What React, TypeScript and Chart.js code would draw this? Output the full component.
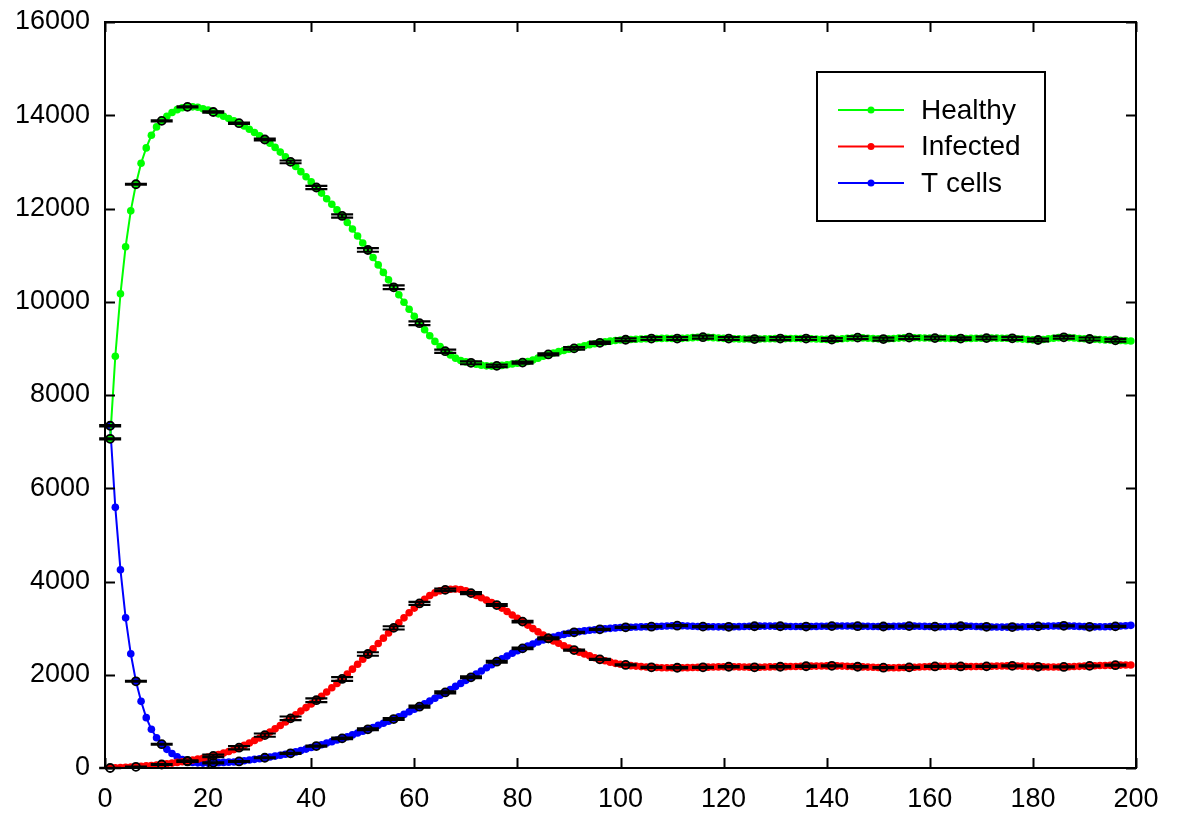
import React, { useEffect, useRef } from "react";
import { Chart, registerables } from "chart.js";

Chart.register(...registerables);

// time points
const times = [
  1, 2, 3, 4, 5, 6, 7, 8, 9, 10, 11, 12, 13, 14, 15, 16, 17, 18, 19, 20,
  21, 22, 23, 24, 25, 26, 27, 28, 29, 30, 31, 32, 33, 34, 35, 36, 37, 38, 39, 40,
  41, 42, 43, 44, 45, 46, 47, 48, 49, 50, 51, 52, 53, 54, 55, 56, 57, 58, 59, 60,
  61, 62, 63, 64, 65, 66, 67, 68, 69, 70, 71, 72, 73, 74, 75, 76, 77, 78, 79, 80,
  81, 82, 83, 84, 85, 86, 87, 88, 89, 90, 91, 92, 93, 94, 95, 96, 97, 98, 99, 100,
  101, 102, 103, 104, 105, 106, 107, 108, 109, 110, 111, 112, 113, 114, 115, 116, 117, 118, 119, 120,
  121, 122, 123, 124, 125, 126, 127, 128, 129, 130, 131, 132, 133, 134, 135, 136, 137, 138, 139, 140,
  141, 142, 143, 144, 145, 146, 147, 148, 149, 150, 151, 152, 153, 154, 155, 156, 157, 158, 159, 160,
  161, 162, 163, 164, 165, 166, 167, 168, 169, 170, 171, 172, 173, 174, 175, 176, 177, 178, 179, 180,
  181, 182, 183, 184, 185, 186, 187, 188, 189, 190, 191, 192, 193, 194, 195, 196, 197, 198, 199,
];

const healthy = [
  7060, 8830, 10170, 11180, 11950, 12520, 12970, 13300, 13570, 13750,
  13880, 13980, 14060, 14120, 14160, 14180, 14180, 14170, 14140, 14110,
  14070, 14030, 13980, 13930, 13880, 13830, 13770, 13700, 13630, 13560,
  13480, 13400, 13310, 13210, 13110, 13000, 12900, 12790, 12680, 12570,
  12450, 12330, 12210, 12090, 11970, 11840, 11700, 11560, 11410, 11260,
  11110, 10950, 10790, 10630, 10470, 10310, 10150, 9990, 9840, 9690,
  9540, 9400, 9270, 9150, 9040, 8940, 8860, 8790, 8740, 8710,
  8690, 8660, 8640, 8625, 8620, 8625, 8635, 8650, 8665, 8680,
  8695, 8720, 8750, 8790, 8830, 8870, 8900, 8930, 8955, 8980,
  9000, 9030, 9055, 9080, 9100, 9120, 9140, 9155, 9170, 9180,
  9185, 9190, 9195, 9200, 9205, 9210, 9212, 9214, 9215, 9213,
  9210, 9215, 9222, 9230, 9236, 9240, 9236, 9230, 9222, 9215,
  9210, 9206, 9203, 9201, 9200, 9200, 9202, 9205, 9207, 9209,
  9210, 9210, 9211, 9211, 9210, 9210, 9206, 9200, 9195, 9192,
  9190, 9196, 9205, 9215, 9224, 9230, 9225, 9217, 9210, 9204,
  9200, 9205, 9212, 9220, 9226, 9230, 9228, 9226, 9224, 9222,
  9220, 9218, 9215, 9213, 9211, 9210, 9212, 9214, 9216, 9218,
  9220, 9220, 9219, 9218, 9217, 9216, 9208, 9199, 9190, 9183,
  9180, 9190, 9205, 9218, 9230, 9237, 9231, 9222, 9213, 9206,
  9201, 9195, 9188, 9182, 9177, 9173, 9168, 9163, 9158,
];

const infected = [
  0, 5, 10, 15, 20, 25, 35, 45, 55, 65,
  75, 90, 105, 120, 135, 150, 170, 190, 210, 235,
  260, 290, 320, 355, 395, 435, 485, 535, 590, 645,
  705, 770, 840, 910, 985, 1065, 1140, 1220, 1295, 1375,
  1455, 1540, 1630, 1720, 1815, 1910, 2015, 2120, 2225, 2335,
  2445, 2555, 2670, 2785, 2895, 3005, 3115, 3220, 3330, 3430,
  3530, 3620, 3700, 3760, 3800, 3820, 3835, 3840, 3830, 3800,
  3750, 3700, 3650, 3600, 3550, 3495, 3430, 3355, 3280, 3210,
  3140, 3065, 2990, 2920, 2850, 2780, 2725, 2675, 2620, 2575,
  2530, 2485, 2445, 2405, 2365, 2330, 2300, 2270, 2245, 2225,
  2210, 2195, 2185, 2175, 2165, 2160, 2155, 2150, 2150, 2150,
  2150, 2150, 2152, 2155, 2158, 2160, 2163, 2166, 2168, 2170,
  2172, 2170, 2168, 2165, 2163, 2160, 2162, 2165, 2168, 2170,
  2172, 2174, 2176, 2178, 2180, 2182, 2184, 2186, 2188, 2190,
  2192, 2190, 2185, 2180, 2176, 2172, 2168, 2164, 2160, 2156,
  2152, 2150, 2150, 2152, 2155, 2158, 2162, 2166, 2170, 2174,
  2178, 2180, 2182, 2182, 2180, 2178, 2176, 2175, 2176, 2178,
  2180, 2183, 2186, 2188, 2190, 2190, 2188, 2184, 2180, 2175,
  2170, 2168, 2166, 2165, 2166, 2168, 2172, 2176, 2180, 2185,
  2190, 2194, 2198, 2200, 2202, 2205, 2207, 2209, 2210,
];

const tcells = [
  7340, 5590, 4250, 3220, 2450, 1860, 1430, 1080, 830, 650,
  510, 400, 310, 240, 180, 140, 120, 110, 105, 105,
  110, 115, 120, 125, 130, 140, 155, 170, 185, 200,
  220, 235, 255, 275, 295, 315, 345, 375, 405, 440,
  470, 500, 535, 565, 600, 635, 670, 710, 750, 790,
  830, 870, 915, 960, 1005, 1050, 1100, 1150, 1205, 1260,
  1315, 1375, 1435, 1495, 1560, 1620, 1685, 1750, 1815, 1880,
  1945, 2015, 2080, 2150, 2215, 2280, 2340, 2400, 2460, 2515,
  2565, 2615, 2660, 2705, 2745, 2780, 2810, 2840, 2865, 2890,
  2910, 2925, 2940, 2955, 2965, 2975, 2985, 2995, 3005, 3012,
  3018, 3020, 3023, 3026, 3029, 3031, 3035, 3040, 3045, 3050,
  3052, 3050, 3046, 3041, 3036, 3032, 3030, 3028, 3027, 3027,
  3028, 3030, 3032, 3035, 3038, 3040, 3042, 3043, 3043, 3042,
  3040, 3038, 3036, 3035, 3034, 3034, 3035, 3037, 3039, 3041,
  3043, 3044, 3045, 3045, 3044, 3042, 3040, 3038, 3036, 3035,
  3035, 3036, 3038, 3040, 3042, 3043, 3042, 3040, 3037, 3034,
  3032, 3031, 3032, 3034, 3037, 3040, 3042, 3040, 3036, 3032,
  3028, 3025, 3023, 3022, 3022, 3023, 3025, 3028, 3031, 3034,
  3037, 3040, 3043, 3046, 3048, 3050, 3047, 3042, 3037, 3032,
  3028, 3027, 3028, 3030, 3033, 3037, 3044, 3052, 3060,
];

// error-bar sample times and half-widths (standard errors)
const errTimes = [
  1, 6, 11, 16, 21, 26, 31, 36, 41, 46, 51, 56, 61, 66, 71, 76, 81, 86, 91, 96,
  101, 106, 111, 116, 121, 126, 131, 136, 141, 146, 151, 156, 161, 166, 171, 176, 181, 186, 191, 196,
];
const healthyErr = [
  10, 10, 10, 10, 12, 15, 20, 30, 35, 35, 38, 40, 40, 35, 30, 25, 20, 22, 25, 25,
  28, 30, 30, 32, 30, 30, 32, 30, 28, 30, 32, 30, 30, 28, 30, 32, 30, 30, 32, 30,
];
const infectedErr = [
  5, 5, 8, 15, 25, 35, 35, 40, 40, 40, 38, 35, 32, 28, 22, 20, 15, 15, 12, 12,
  12, 12, 12, 12, 12, 12, 12, 12, 12, 12, 12, 12, 12, 12, 12, 12, 12, 12, 12, 12,
];
const tcellErr = [
  15, 10, 10, 10, 10, 10, 10, 10, 12, 15, 18, 20, 22, 22, 20, 18, 15, 15, 12, 12,
  12, 12, 12, 12, 12, 12, 12, 12, 12, 12, 12, 12, 12, 12, 12, 12, 12, 12, 12, 12,
];

const seriesNames = ["Healthy", "Infected", "T cells"];
const seriesColors = ["#00ff00", "#ff0000", "#0000ff"];
const xTicks = [0, 20, 40, 60, 80, 100, 120, 140, 160, 180, 200];

const FONT = "'Liberation Sans', Arial, sans-serif";

export default function App() {
  const canvasRef = useRef<HTMLCanvasElement | null>(null);

  useEffect(() => {
    const canvas = canvasRef.current;
    if (!canvas) return;
    const values = [healthy, infected, tcells];
    const errs = [healthyErr, infectedErr, tcellErr];

    const frame = {
      id: "frameTicks",
      afterDraw(chart: any) {
        const { ctx, chartArea: a, scales } = chart;
        const xs = scales.x;
        const ys = scales.y;
        ctx.save();
        ctx.strokeStyle = "#000";
        ctx.lineWidth = 2;
        ctx.strokeRect(a.left, a.top, a.right - a.left, a.bottom - a.top);
        ctx.beginPath();
        const tl = 10;
        xTicks.forEach((t) => {
          const px = Math.round(xs.getPixelForValue(t)) + 0.5;
          ctx.moveTo(px, a.bottom);
          ctx.lineTo(px, a.bottom - tl);
          ctx.moveTo(px, a.top);
          ctx.lineTo(px, a.top + tl);
        });
        ys.ticks.forEach((t: any) => {
          const py = Math.round(ys.getPixelForValue(t.value)) + 0.5;
          ctx.moveTo(a.left, py);
          ctx.lineTo(a.left + tl, py);
          ctx.moveTo(a.right, py);
          ctx.lineTo(a.right - tl, py);
        });
        ctx.stroke();

        // legend
        const bx = a.right - 319;
        const by = a.top + 50;
        const bw = 228;
        const bh = 149;
        ctx.fillStyle = "#fff";
        ctx.fillRect(bx, by, bw, bh);
        ctx.lineWidth = 2;
        ctx.strokeStyle = "#000";
        ctx.strokeRect(bx, by, bw, bh);
        ctx.font = `28px ${FONT}`;
        ctx.textBaseline = "middle";
        ctx.textAlign = "left";
        seriesNames.forEach((name, i) => {
          const y = by + 38 + i * 36.5;
          ctx.strokeStyle = seriesColors[i];
          ctx.lineWidth = 2;
          ctx.beginPath();
          ctx.moveTo(bx + 21, y);
          ctx.lineTo(bx + 87, y);
          ctx.stroke();
          ctx.fillStyle = seriesColors[i];
          ctx.beginPath();
          ctx.arc(bx + 54, y, 3.5, 0, Math.PI * 2);
          ctx.fill();
          ctx.fillStyle = "#000";
          ctx.fillText(name, bx + 104, y + 1);
        });
        ctx.restore();
      },
      afterDatasetsDraw(chart: any) {
        const { ctx, scales } = chart;
        const xs = scales.x;
        const ys = scales.y;
        ctx.save();
        ctx.strokeStyle = "#000";
        values.forEach((vals, s) => {
          errTimes.forEach((t, k) => {
            const idx = times.indexOf(t);
            const v = vals[idx];
            const e = errs[s][k];
            const px = xs.getPixelForValue(t);
            const py = ys.getPixelForValue(v);
            const pLo = ys.getPixelForValue(v - e);
            const pHi = ys.getPixelForValue(v + e);
            ctx.lineWidth = 2.2;
            ctx.beginPath();
            ctx.moveTo(px, pLo);
            ctx.lineTo(px, pHi);
            ctx.moveTo(px - 11, pLo);
            ctx.lineTo(px + 11, pLo);
            ctx.moveTo(px - 11, pHi);
            ctx.lineTo(px + 11, pHi);
            ctx.stroke();
            ctx.lineWidth = 1.8;
            ctx.beginPath();
            ctx.arc(px, py, 4, 0, Math.PI * 2);
            ctx.stroke();
          });
        });
        ctx.restore();
      },
    };

    const chart = new Chart(canvas, {
      type: "line",
      data: {
        datasets: values.map((vals, s) => ({
          label: seriesNames[s],
          data: vals.map((v, i) => ({ x: times[i], y: v })),
          borderColor: seriesColors[s],
          backgroundColor: seriesColors[s],
          pointBackgroundColor: seriesColors[s],
          pointBorderWidth: 0,
          pointRadius: 3.8,
          borderWidth: 2,
          tension: 0,
          fill: false,
        })),
      },
      options: {
        responsive: false,
        animation: false,
        events: [],
        layout: { padding: { top: 22, right: 43, left: 0, bottom: 0 } },
        plugins: { legend: { display: false }, tooltip: { enabled: false } },
        scales: {
          x: {
            type: "linear",
            min: 0,
            max: 200,
            afterBuildTicks(scale: any) {
              scale.ticks = xTicks.map((v) => ({ value: v }));
            },
            afterFit(scale: any) {
              scale.height = 45;
              scale.paddingLeft = 0;
              scale.paddingRight = 0;
            },
            grid: { display: false, drawTicks: false },
            border: { display: false },
            ticks: {
              color: "#000",
              padding: 15,
              maxRotation: 0,
              autoSkip: false,
              callback: (v: any) => String(v),
              font: { family: FONT, size: 27 },
            },
          },
          y: {
            type: "linear",
            min: 0,
            max: 16000,
            afterFit(scale: any) {
              scale.width = 105;
              scale.paddingTop = 0;
              scale.paddingBottom = 0;
            },
            grid: { display: false, drawTicks: false },
            border: { display: false },
            ticks: {
              color: "#000",
              stepSize: 2000,
              padding: 15,
              callback: (v: any) => String(v),
              font: { family: FONT, size: 27 },
            },
          },
        },
      },
      plugins: [frame],
    });
    return () => chart.destroy();
  }, []);

  return (
    <div style={{ position: "fixed", left: 0, top: 0, width: 1179, height: 813, background: "#fff" }}>
      <canvas ref={canvasRef} width={1179} height={813} />
    </div>
  );
}
